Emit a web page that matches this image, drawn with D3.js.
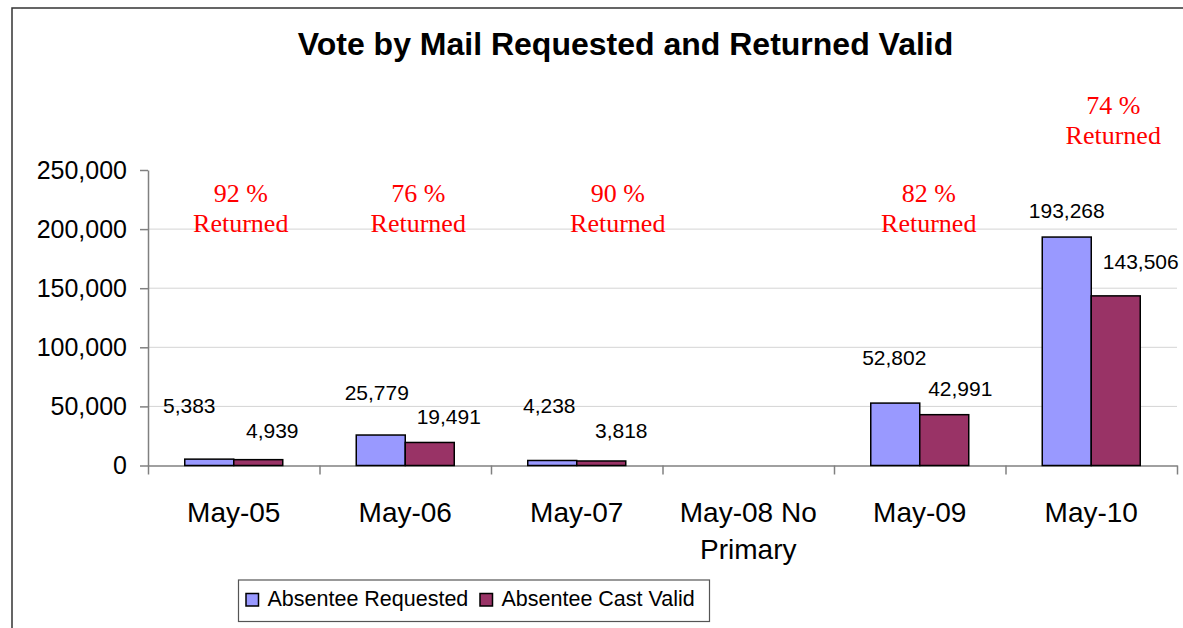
<!DOCTYPE html>
<html>
<head>
<meta charset="utf-8">
<script src="https://cdn.jsdelivr.net/npm/d3@7"></script>
<style>
  body { margin: 0; background: #fff; }
  svg { display: block; }
</style>
</head>
<body>
<script>
// data
var categories = ["May-05", "May-06", "May-07", "May-08 No|Primary", "May-09", "May-10"];
var requested  = [5383, 25779, 4238, null, 52802, 193268];
var castValid  = [4939, 19491, 3818, null, 42991, 143506];
var pctReturned = [92, 76, 90, null, 82, 74];
var yTicks = [0, 50000, 100000, 150000, 200000, 250000];
var seriesNames = ["Absentee Requested", "Absentee Cast Valid"];

// label nudges (px) -- the labels were dragged around by hand in the original
var reqNudge  = [[-20, -46], [-4, -35], [-3, -47], null, [-1, -38], [0, -19]];
var castNudge = [[14, -22], [19, -18], [20, -23], null, [16, -19], [25, -27]];
var pctNudge  = [[7, 0], [13, 0], [41, 0], null, [9, 0], [22, -88]];

var W = 1183, H = 628,
    plotL = 148, plotR = 1177, plotT = 170, plotB = 465.5,
    colors = ['#9999ff', '#993366'],
    sans = 'Liberation Sans, Arial, sans-serif',
    serif = 'Liberation Serif, Times New Roman, serif';

var svg = d3.select('body').append('svg')
  .attr('width', W).attr('height', H);

// outer frame (right and bottom edges fall outside the picture)
svg.append('rect')
  .attr('x', 12).attr('y', 8)
  .attr('width', W + 20).attr('height', H + 20)
  .attr('fill', 'none').attr('stroke', '#333').attr('stroke-width', 1.5);

svg.append('text')
  .attr('x', 625.5).attr('y', 55)
  .attr('text-anchor', 'middle')
  .style('font-family', sans).style('font-size', '32px').style('font-weight', 'bold')
  .text('Vote by Mail Requested and Returned Valid');

var x = d3.scaleBand().domain(d3.range(categories.length)).range([plotL, plotR]);
var y = d3.scaleLinear().domain([0, 250000]).range([plotB, plotT]);
var barW = x.bandwidth() / 3.5;
function cx(i) { return x(i) + x.bandwidth() / 2; }

// gridlines
svg.append('g').selectAll('line')
  .data(yTicks.filter(function(d){ return d > 0 && d < 250000; }))
  .enter().append('line')
  .attr('x1', plotL).attr('x2', plotR)
  .attr('y1', function(d){ return y(d); }).attr('y2', function(d){ return y(d); })
  .attr('stroke', '#d4d4d4').attr('stroke-width', 1);

// y axis
var yAxis = svg.append('g')
  .attr('transform', 'translate(' + plotL + ',0)')
  .call(d3.axisLeft(y).tickValues(yTicks).tickSize(8).tickSizeOuter(0)
        .tickPadding(13).tickFormat(d3.format(',')));
yAxis.selectAll('text').style('font-family', sans).style('font-size', '25px').attr('fill', '#000');
yAxis.selectAll('line, path').attr('stroke', '#808080').attr('stroke-width', 1.5);

// x axis: ticks at band edges
var xEdge = d3.scaleLinear().domain([0, categories.length]).range([plotL, plotR]);
var xAxis = svg.append('g')
  .attr('transform', 'translate(0,' + plotB + ')')
  .call(d3.axisBottom(xEdge).tickValues(d3.range(categories.length + 1))
        .tickSize(9).tickSizeOuter(0).tickFormat(''));
xAxis.selectAll('line, path').attr('stroke', '#808080').attr('stroke-width', 1.5);

// category labels
svg.append('g').selectAll('text')
  .data(categories).enter().append('text')
  .attr('x', function(d, i){ return cx(i); })
  .attr('y', 521.5)
  .attr('text-anchor', 'middle')
  .style('font-family', sans).style('font-size', '28px')
  .each(function(d, i) {
    var t = d3.select(this);
    d.split('|').forEach(function(line, k) {
      t.append('tspan').attr('x', cx(i)).attr('dy', k ? 37 : 0).text(line);
    });
  });

// bars
var series = [requested, castValid];
series.forEach(function(vals, s) {
  svg.append('g').selectAll('rect')
    .data(d3.range(vals.length).filter(function(i){ return vals[i] != null; }))
    .enter().append('rect')
    .attr('x', function(i){ return cx(i) - barW + s * barW; })
    .attr('y', function(i){ return y(vals[i]); })
    .attr('width', barW)
    .attr('height', function(i){ return plotB - y(vals[i]); })
    .attr('fill', colors[s])
    .attr('stroke', '#000').attr('stroke-width', 1.5);
});

// value labels
var fmt = d3.format(',');
[[requested, reqNudge], [castValid, castNudge]].forEach(function(p, s) {
  p[0].forEach(function(v, i) {
    if (v == null) return;
    var n = p[1][i];
    svg.append('text')
      .attr('x', cx(i) - barW / 2 + s * barW + n[0])
      .attr('y', y(v) + n[1])
      .attr('text-anchor', 'middle')
      .style('font-family', sans).style('font-size', '21px')
      .text(fmt(v));
  });
});

// percent returned notes
pctReturned.forEach(function(v, i) {
  if (v == null) return;
  var n = pctNudge[i];
  var t = svg.append('text')
    .attr('text-anchor', 'middle')
    .attr('fill', '#ff0000')
    .style('font-family', serif).style('font-size', '26px');
  t.append('tspan').attr('x', cx(i) + n[0]).attr('y', 201.5 + n[1]).text(v + ' %');
  t.append('tspan').attr('x', cx(i) + n[0]).attr('y', 231.5 + n[1]).text('Returned');
});

// legend
var leg = svg.append('g');
leg.append('rect')
  .attr('x', 238.5).attr('y', 580).attr('width', 471).attr('height', 41.5)
  .attr('fill', '#fff').attr('stroke', '#555').attr('stroke-width', 1.2);
var legX = [246, 480];
seriesNames.forEach(function(name, s) {
  leg.append('rect')
    .attr('x', legX[s]).attr('y', 593.5).attr('width', 12.5).attr('height', 12.5)
    .attr('fill', colors[s]).attr('stroke', '#000').attr('stroke-width', 1.5);
  leg.append('text')
    .attr('x', legX[s] + 21.5).attr('y', 606)
    .style('font-family', sans).style('font-size', '21.5px')
    .text(name);
});
</script>
</body>
</html>
